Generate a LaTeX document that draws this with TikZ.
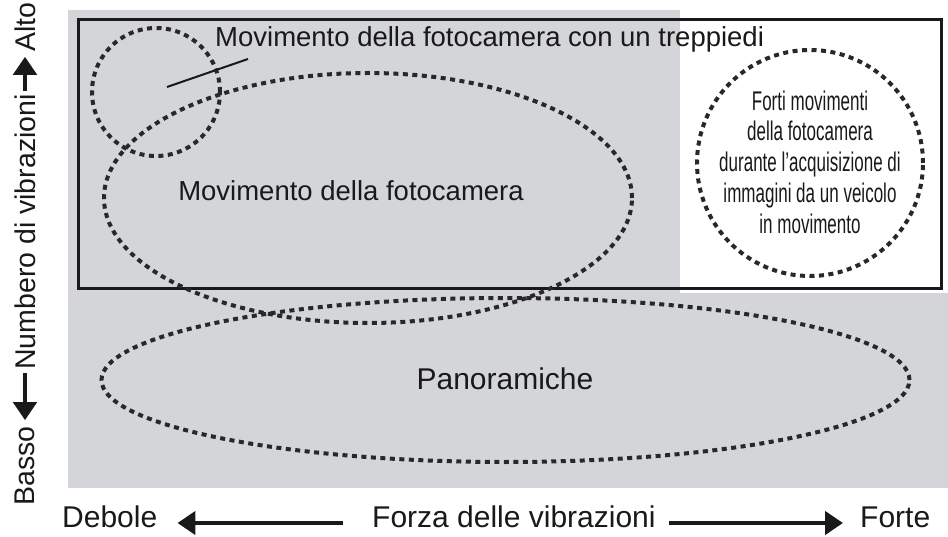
\documentclass[tikz,border=0pt]{standalone}
\usepackage{fontspec}
\setmainfont{Liberation Sans}
\newfontfamily\narrowsans[FakeStretch=0.63]{Liberation Sans}
\usetikzlibrary{shapes.geometric,arrows.meta}
\definecolor{bggray}{RGB}{211,213,216}
\definecolor{ink}{RGB}{25,25,25}
\definecolor{dotink}{RGB}{40,40,40}
\begin{document}
\begin{tikzpicture}[x=1pt,y=-1pt,
  ring/.style={draw=dotink, line width=4pt, dash pattern=on 5pt off 4.5pt, inner sep=0pt, outer sep=0pt},
  frame/.style={draw=ink, line width=3pt},
  lbl/.style={text=ink, inner sep=0pt, font=\fontsize{27.5}{33}\selectfont},
  panlbl/.style={text=ink, inner sep=0pt, font=\fontsize{30}{36}\selectfont},
  circtxt/.style={text=ink, inner sep=0pt, align=center, font=\narrowsans\fontsize{27}{30.7}\selectfont},
  axlbl/.style={text=ink, inner sep=0pt, font=\fontsize{30}{36}\selectfont},
  sidelbl/.style={text=ink, inner sep=0pt, font=\fontsize{28.5}{34}\selectfont},
  axarrow/.style={draw=ink, line width=4.5pt, -{Triangle[length=18pt,width=23pt]}},
  leader/.style={draw=ink, line width=2pt}]
\useasboundingbox (0,0) rectangle (948,537);
% background panels
\fill[bggray] (68,10) rectangle (680,293);
\fill[bggray] (68,293) rectangle (948,488);
\draw[frame] (78,20) rectangle (941,289);
% dotted regions
\node[ring, circle, minimum size=128pt] (tripod) at (156,92) {};
\node[ring, ellipse, minimum width=528pt, minimum height=250pt] (camell) at (368,198) {};
\node[ring, ellipse, minimum width=808pt, minimum height=164pt] (panell) at (505.5,380) {};
\node[ring, circle, minimum size=226pt] (vehring) at (810,163) {};
% labels
\node[lbl, anchor=base west] (triplbl) at (215,47) {Movimento della fotocamera con un treppiedi};
\coordinate (tripA) at (167,87);
\coordinate (tripB) at (248,59);
\draw[leader] (tripA) -- (tripB);
\node[lbl, anchor=base] (camlbl) at (351,201) {Movimento della fotocamera};
\node[panlbl, anchor=base] (panlbl) at (505,389) {Panoramiche};
\node[circtxt] (vehlbl) at (810,162) {Forti movimenti\\della fotocamera\\durante l’acquisizione di\\immagini da un veicolo\\in movimento};
% horizontal axis
\node[axlbl, anchor=base west] (debole) at (62,527) {Debole};
\node[axlbl, anchor=base west] (forza) at (372,527) {Forza delle vibrazioni};
\node[axlbl, anchor=base west] (forte) at (860,527) {Forte};
\draw[axarrow] ([shift={(-29pt,4pt)}]forza.base west) -- ([shift={(20pt,4pt)}]debole.base east);
\draw[axarrow] ([shift={(13pt,4pt)}]forza.base east) -- ([shift={(-17pt,4pt)}]forte.base west);
% vertical axis
\node[sidelbl, rotate=90] (alto) at (25,27) {Alto};
\node[sidelbl, rotate=90] (numb) at (25,232) {Numbero di vibrazioni};
\node[sidelbl, rotate=90] (basso) at (25,466) {Basso};
\draw[axarrow, shorten >=5pt, shorten <=3pt] (numb.east) -- (alto.west);
\draw[axarrow, shorten >=6pt, shorten <=3pt] (numb.west) -- (basso.east);
\end{tikzpicture}
\end{document}
